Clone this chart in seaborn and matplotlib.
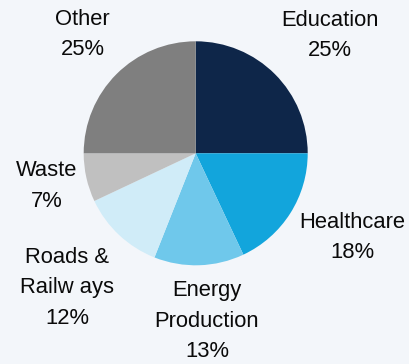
import matplotlib
matplotlib.use("Agg")
import matplotlib.pyplot as plt
import seaborn as sns

# Share of spending by sector (%)
sectors = ["Education", "Healthcare", "Energy\nProduction", "Roads &\nRailw ays", "Waste", "Other"]
shares = [25, 18, 13, 12, 7, 25]
colors = ["#0e2649", "#12a5dc", "#6fc8eb", "#d0ecf8", "#c0c0c0", "#7f7f7f"]

# label block centres, in units of the pie radius
label_xy = [(1.20, 1.05), (1.40, -0.75), (0.10, -1.50), (-1.15, -1.20), (-1.33, -0.29), (-1.01, 1.06)]

sns.set_theme(style="white")
plt.rcParams["font.family"] = ["Liberation Sans", "DejaVu Sans"]

bg = "#f3f6fa"
W, H, dpi = 410, 364, 100
fig = plt.figure(figsize=(W / dpi, H / dpi), dpi=dpi, facecolor=bg)
ax = fig.add_axes([0, 0, 1, 1], facecolor=bg)

ax.pie(shares, colors=colors, startangle=90, counterclock=False,
       wedgeprops=dict(linewidth=0))

for name, val, (x, y) in zip(sectors, shares, label_xy):
    ax.text(x, y, f"{name}\n{val}%", ha="center", va="center",
            fontsize=15.8, color="#0a0a0a", linespacing=1.6)

cx, cy, r = 195.7, 153.3, 112.0
ax.set_xlim(-cx / r, (W - cx) / r)
ax.set_ylim(-(H - cy) / r, cy / r)
ax.set_aspect("auto")
ax.axis("off")

fig.savefig("out.png", dpi=dpi, facecolor=bg)
